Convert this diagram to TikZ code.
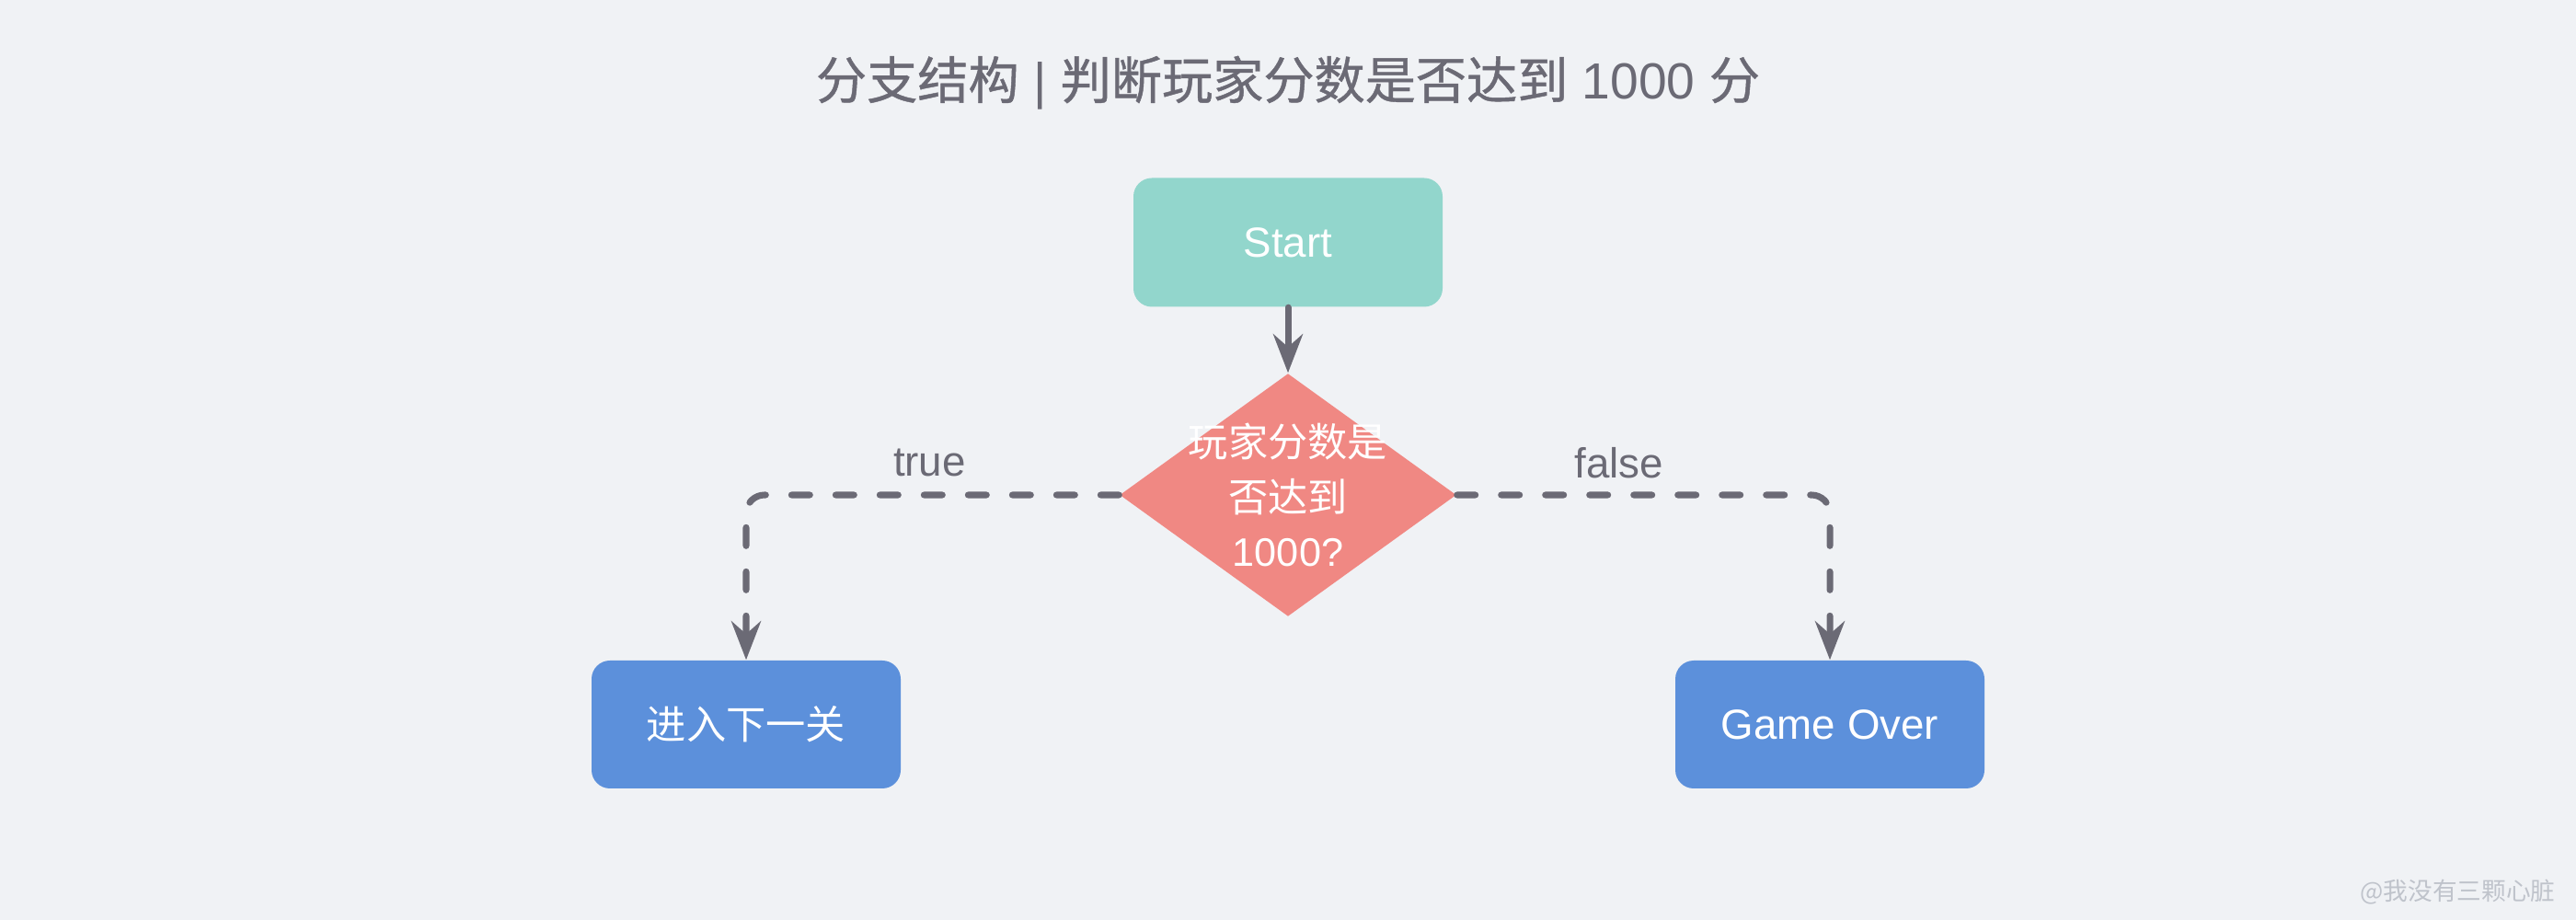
\documentclass[tikz,border=0pt]{standalone}
\usepackage{fontspec}
\setmainfont{Liberation Sans}
\newfontfamily\cjk{Noto Sans CJK SC}
\newfontfamily\cjktitle[FakeBold=0.8]{Noto Sans CJK SC}
\usetikzlibrary{positioning,arrows.meta,shapes.geometric}
\tikzset{>=Stealth}
\definecolor{bgcolor}{HTML}{F0F2F5}
\definecolor{textgray}{HTML}{6B6A75}
\definecolor{startcolor}{HTML}{92D6CC}
\definecolor{condcolor}{HTML}{F08883}
\definecolor{boxcolor}{HTML}{5C90DB}
\definecolor{markgray}{HTML}{BFC3CB}

\tikzset{
    stepnode/.style={rectangle, rounded corners=0.2cm, inner sep=0pt,
        text=white, font=\fontsize{13}{15}\selectfont,
        minimum width=3.36cm, minimum height=1.39cm},
    condnode/.style={diamond, fill=condcolor, inner sep=0pt,
        minimum width=3.66cm, minimum height=2.64cm},
    flowline/.style={line width=2pt, textgray, line cap=round,
        -{Stealth[length=4.2mm, width=3.2mm, inset=1.4mm]}},
    branchline/.style={flowline, dash pattern=on 0.2cm off 0.28cm,
        rounded corners=0.2cm},
    branchlabel/.style={text=textgray, font=\fontsize{13}{15}\selectfont}
}

\begin{document}
\begin{tikzpicture}
    % Background and frame
    \fill[bgcolor] (0,0) rectangle (28,-10);
    \useasboundingbox (0,0) rectangle (28,-10);

    % Title
    \node[text=textgray, font=\fontsize{15.7}{17}\selectfont] (title) at (14,-0.9)
        {{\cjktitle 分支结构} | {\cjktitle 判断玩家分数是否达到} 1000 {\cjktitle 分}};

    % Flow nodes
    \node[stepnode, fill=startcolor, minimum height=1.40cm]
        (start) at (14,-2.635) {Start};
    \node[condnode] (check) at (14,-5.38) {};
    \node[text=white, align=center, font=\fontsize{12.3}{17}\selectfont]
        (checktext) at (check.center) {{\cjk 玩家分数是}\\{\cjk 否达到}\\1000?};
    \node[stepnode, fill=boxcolor, font=\cjk\fontsize{12.3}{15}\selectfont]
        (next) at (8.11,-7.875) {进入下一关};
    \node[stepnode, fill=boxcolor] (over) at (19.89,-7.875) {Game Over};

    % Connectors
    \draw[flowline] (start.south) -- (check.north);
    \draw[branchline] (check.west) -| (next.north)
        node[branchlabel, pos=0.254, yshift=0.35cm] (truelabel) {true};
    \draw[branchline] (check.east) -| (over.north)
        node[branchlabel, pos=0.217, yshift=0.35cm] (falselabel) {false};

    % Watermark
    \node[anchor=east, text=markgray, font=\cjk\fontsize{7.6}{9}\selectfont]
        (mark) at (27.9,-9.7) {@我没有三颗心脏};
\end{tikzpicture}
\end{document}
